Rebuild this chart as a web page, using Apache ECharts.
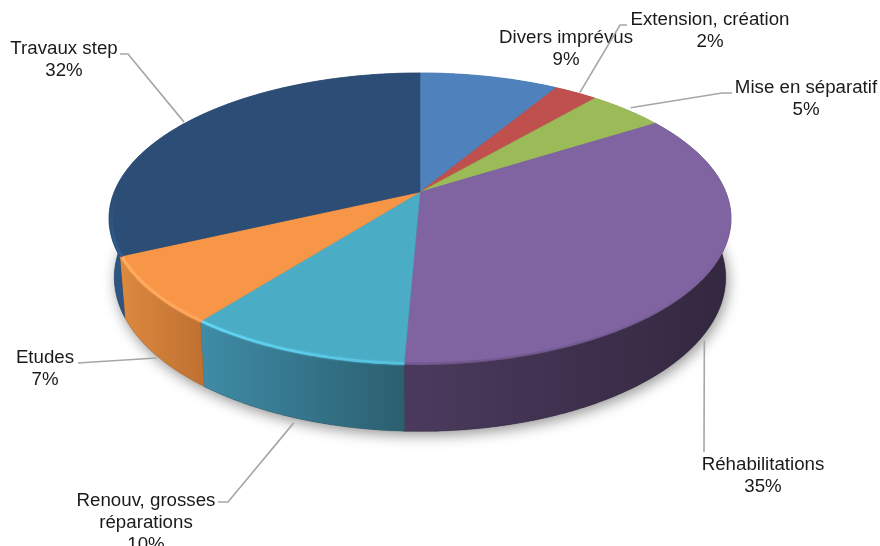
<!DOCTYPE html>
<html>
<head>
<meta charset="utf-8">
<style>
  html, body { margin: 0; padding: 0; background: #fff; overflow: hidden; }
  #chart { width: 880px; height: 546px; }
</style>
<script src="https://cdn.jsdelivr.net/npm/echarts@6/dist/echarts.min.js"></script>
</head>
<body>
<div id="chart"></div>
<script>
// data
const categories = ["Divers imprévus", "Extension, création", "Mise en séparatif", "Réhabilitations", "Renouv, grosses\nréparations", "Etudes", "Travaux step"];
const sliceShares = [8.6, 2.68, 4.72, 34.68, 9.87, 7.51, 31.94];
const percentLabels = ["9%", "2%", "5%", "35%", "10%", "7%", "32%"];

// styles
const topColors = ["#4f81bd", "#c0504d", "#9bbb59", "#8064a2", "#4bacc6", "#f79646", "#2c4d75"];
const wallLeft = ["#3f6796", "#99403d", "#7c9647", "#4b3a5e", "#3f8ca6", "#dd8a40", "#2c5585"];
const wallRight = ["#3f6796", "#99403d", "#7c9647", "#33283f", "#2b5f70", "#bf7030", "#264468"];
const rimStart = [null, null, null, "#75598f", "#62d6f5", "#ffac62", "rgba(47,95,146,0)"];
const rimEnd = [null, null, null, "rgba(96,75,122,0)", "#55c0dc", "#ffa55a", "#2f5f92"];
const rimGlow = [0, 0, 0, 0, 2, 2, 0];

// label layout: text centre, elbow points of the leader line, nudge of its start
const labelPos = [[566, 49], [710, 31], [806, 99], [763, 476], [146, 523], [45, 369], [64, 60]];
const leaderElbows = [null, [[620, 25], [627, 25]], [[722, 93], [732, 93]], [[704, 452]], [[228, 502], [218, 502]], [[93, 362], [78, 363]], [[128, 54], [120, 54]]];
const leaderNudge = [null, [4, 0], [4, -2], [-2, 6], [-1, 2], [2, 1], [-1, -1]];
const leaderOnWall = [false, false, false, true, true, true, false];

// perspective disc
const cx = 420, cy = 192, A = 305.8, B = 140.7, P = 0.182;
const depth = 57.5, lowerScale = 0.983, bevelInset = 0.992;

const total = sliceShares.reduce((a, b) => a + b, 0);
const bounds = [0];
sliceShares.forEach((v, i) => bounds.push(bounds[i] + v / total * Math.PI * 2));

function rim(theta) {
  const d = 1 + P * Math.cos(theta);
  return [cx + A * Math.sin(theta) / d, cy - B * Math.cos(theta) / d];
}
function lowerRim(theta) {
  const p = rim(theta);
  const d = 1 + P * Math.cos(theta);
  return [cx + (p[0] - cx) * lowerScale, cy + depth / d + (p[1] - cy) * lowerScale];
}
function bevelRim(theta) {
  const p = rim(theta);
  return [cx + (p[0] - cx) * bevelInset, cy + (p[1] - cy) * bevelInset + 1];
}
function arc(fn, t1, t2) {
  const pts = [];
  const n = Math.max(2, Math.ceil(Math.abs(t2 - t1) / 0.01));
  for (let i = 0; i <= n; i++) pts.push(fn(t1 + (t2 - t1) * i / n));
  return pts;
}

function renderShadow() {
  return {
    type: "polygon",
    shape: { points: arc(lowerRim, 0, Math.PI * 2) },
    style: { fill: "#555", shadowBlur: 14, shadowColor: "rgba(0,0,0,0.42)", shadowOffsetY: 4, shadowOffsetX: 2 },
    silent: true
  };
}

function renderWall(params) {
  const i = params.dataIndex;
  const top = arc(rim, bounds[i], bounds[i + 1]);
  const low = arc(lowerRim, bounds[i + 1], bounds[i]);
  const fill = new echarts.graphic.LinearGradient(0, 0, 1, 0, [
    { offset: 0, color: wallLeft[i] },
    { offset: 1, color: wallRight[i] }
  ]);
  return {
    type: "polygon",
    shape: { points: top.concat(low) },
    style: { fill: fill, stroke: wallRight[i], lineWidth: 0.4 },
    silent: true
  };
}

function renderTop(params) {
  const i = params.dataIndex;
  const pts = [[cx, cy]].concat(arc(rim, bounds[i], bounds[i + 1]));
  const children = [{
    type: "polygon",
    shape: { points: pts },
    style: { fill: topColors[i], stroke: topColors[i], lineWidth: 0.5 },
    silent: true
  }];
  if (rimStart[i]) {
    // lit bevel along the front edge of the disc, faded where it reaches the silhouette
    const t1 = Math.max(bounds[i], 1.85);
    const t2 = Math.min(bounds[i + 1], 4.7);
    if (t2 > t1) {
      const dir = i === 6 ? [0, 0, 0, 1] : [0, 0, 1, 0];
      const stroke = new echarts.graphic.LinearGradient(dir[0], dir[1], dir[2], dir[3], [
        { offset: 0, color: rimStart[i] },
        { offset: 1, color: rimEnd[i] }
      ]);
      children.push({
        type: "polyline",
        shape: { points: arc(bevelRim, t1, t2) },
        style: { fill: "none", stroke: stroke, lineWidth: 2.6, shadowBlur: rimGlow[i], shadowColor: rimEnd[i] },
        silent: true
      });
    }
  }
  return { type: "group", children: children };
}

function renderLabel(params) {
  const i = params.dataIndex;
  const mid = (bounds[i] + bounds[i + 1]) / 2;
  const children = [];
  if (leaderElbows[i]) {
    const p = leaderOnWall[i] ? lowerRim(mid) : rim(mid);
    const start = [p[0] + leaderNudge[i][0], p[1] + leaderNudge[i][1] + (leaderOnWall[i] ? 3 : 0)];
    children.push({
      type: "polyline",
      shape: { points: [start].concat(leaderElbows[i]) },
      style: { fill: "none", stroke: "#a6a6a6", lineWidth: 1.6 },
      silent: true
    });
  }
  children.push({
    type: "text",
    x: labelPos[i][0],
    y: labelPos[i][1],
    style: {
      text: categories[i] + "\n" + percentLabels[i],
      fill: "#1a1a1a",
      font: "18.7px 'Liberation Sans', Arial, sans-serif",
      lineHeight: 22,
      align: "center",
      verticalAlign: "middle"
    },
    silent: true
  });
  return { type: "group", children: children };
}

const chart = echarts.init(document.getElementById("chart"), null, { renderer: "canvas" });
const rows = categories.map((c, i) => [i]);

chart.setOption({
  backgroundColor: "#ffffff",
  animation: false,
  tooltip: { show: false },
  series: [
    { type: "custom", coordinateSystem: "none", data: [[0]], renderItem: renderShadow, silent: true, z: 1 },
    { type: "custom", coordinateSystem: "none", data: rows, renderItem: renderWall, silent: true, z: 2 },
    { type: "custom", coordinateSystem: "none", data: rows, renderItem: renderTop, silent: true, z: 3 },
    { type: "custom", coordinateSystem: "none", data: rows, renderItem: renderLabel, silent: true, z: 4 }
  ]
});
</script>
</body>
</html>
